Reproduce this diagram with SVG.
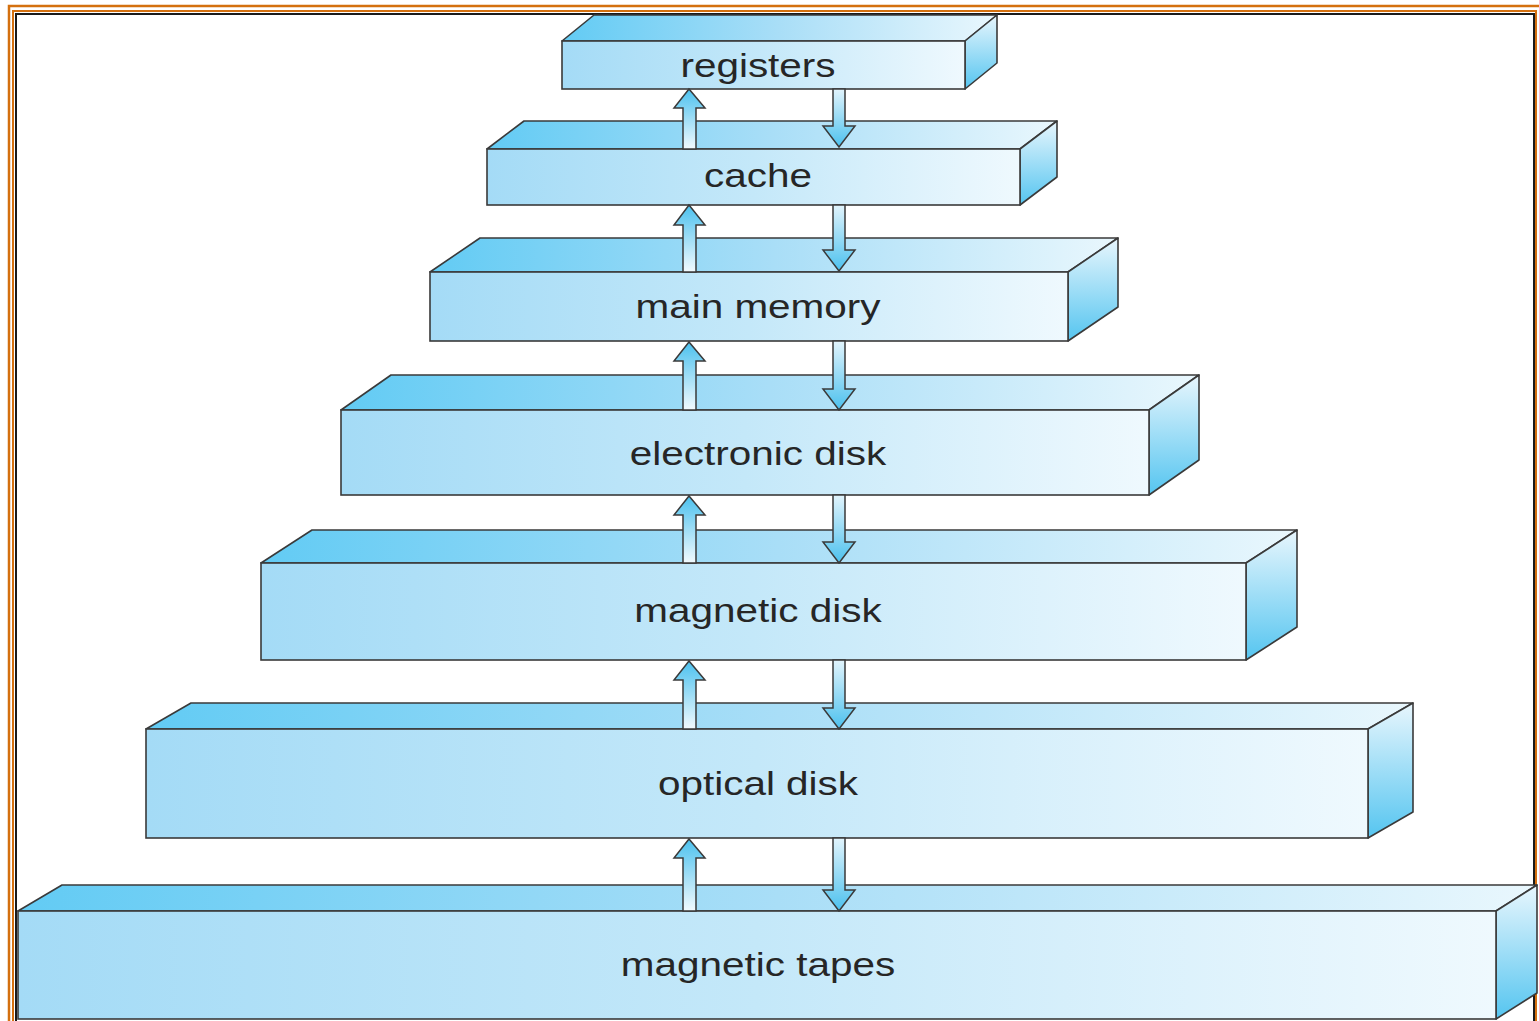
<svg xmlns="http://www.w3.org/2000/svg" width="1539" height="1021" viewBox="0 0 1539 1021">
<defs>
<linearGradient id="gFront" x1="0" y1="0" x2="1" y2="0">
<stop offset="0" stop-color="#a4dbf6"/><stop offset="0.5" stop-color="#c4e8f9"/><stop offset="1" stop-color="#eff9fe"/>
</linearGradient>
<linearGradient id="gTop" x1="0" y1="0" x2="1" y2="0">
<stop offset="0" stop-color="#62cbf4"/><stop offset="0.5" stop-color="#a9def7"/><stop offset="1" stop-color="#e9f7fd"/>
</linearGradient>
<linearGradient id="gSide" x1="0" y1="0" x2="0" y2="1">
<stop offset="0" stop-color="#e8f6fd"/><stop offset="1" stop-color="#55c5f0"/>
</linearGradient>
<linearGradient id="gUp" x1="0" y1="0" x2="0" y2="1">
<stop offset="0" stop-color="#4cc1ee"/><stop offset="1" stop-color="#f2fafe"/>
</linearGradient>
<linearGradient id="gDown" x1="0" y1="0" x2="0" y2="1">
<stop offset="0" stop-color="#e2f4fc"/><stop offset="1" stop-color="#4cc1ee"/>
</linearGradient>
</defs>
<style>
.f{fill:url(#gFront);stroke:#3a3a3a;stroke-width:1.6}
.t{fill:url(#gTop);stroke:#3a3a3a;stroke-width:1.6;stroke-linejoin:round}
.s{fill:url(#gSide);stroke:#3a3a3a;stroke-width:1.6;stroke-linejoin:round}
.up{fill:url(#gUp);stroke:#3a3a3a;stroke-width:1.5;stroke-linejoin:miter}
.dn{fill:url(#gDown);stroke:#3a3a3a;stroke-width:1.5;stroke-linejoin:miter}
.lbl{font-family:"Liberation Sans",Arial,sans-serif;font-size:34px;fill:#262626;text-anchor:middle}
</style>
<rect x="0" y="0" width="1539" height="1021" fill="#ffffff"/>
<g id="frame" fill="none">
<path d="M9,1021 V6 H1539" stroke="#d4700f" stroke-width="2.5"/>
<path d="M13,1021 V11 H1536 V1021" stroke="#d4700f" stroke-width="2"/>
<path d="M16,1021 V14 H1534 V1021" stroke="#1a1a1a" stroke-width="2"/>
</g>
<g id="registers">
<polygon class="t" points="562,41 594,15 997,15 965,41"/>
<polygon class="s" points="965,41 997,15 997,63 965,89"/>
<rect class="f" x="562" y="41" width="403" height="48"/>
<text class="lbl" transform="translate(758,77) scale(1.19,1)">registers</text>
</g>
<g id="cache">
<polygon class="t" points="487,149 524,121 1057,121 1020,149"/>
<polygon class="s" points="1020,149 1057,121 1057,177 1020,205"/>
<rect class="f" x="487" y="149" width="533" height="56"/>
<text class="lbl" transform="translate(758,187) scale(1.19,1)">cache</text>
</g>
<g id="main-memory">
<polygon class="t" points="430,272 480,238 1118,238 1068,272"/>
<polygon class="s" points="1068,272 1118,238 1118,307 1068,341"/>
<rect class="f" x="430" y="272" width="638" height="69"/>
<text class="lbl" transform="translate(758,318) scale(1.19,1)">main memory</text>
</g>
<g id="electronic-disk">
<polygon class="t" points="341,410 391,375 1199,375 1149,410"/>
<polygon class="s" points="1149,410 1199,375 1199,460 1149,495"/>
<rect class="f" x="341" y="410" width="808" height="85"/>
<text class="lbl" transform="translate(758,465) scale(1.19,1)">electronic disk</text>
</g>
<g id="magnetic-disk">
<polygon class="t" points="261,563 312,530 1297,530 1246,563"/>
<polygon class="s" points="1246,563 1297,530 1297,627 1246,660"/>
<rect class="f" x="261" y="563" width="985" height="97"/>
<text class="lbl" transform="translate(758,622) scale(1.19,1)">magnetic disk</text>
</g>
<g id="optical-disk">
<polygon class="t" points="146,729 191,703 1413,703 1368,729"/>
<polygon class="s" points="1368,729 1413,703 1413,812 1368,838"/>
<rect class="f" x="146" y="729" width="1222" height="109"/>
<text class="lbl" transform="translate(758,795) scale(1.19,1)">optical disk</text>
</g>
<g id="magnetic-tapes">
<polygon class="t" points="18,911 62,885 1537,885 1496,911"/>
<polygon class="s" points="1496,911 1537,885 1537,993 1496,1019"/>
<rect class="f" x="18" y="911" width="1478" height="108"/>
<text class="lbl" transform="translate(758,976) scale(1.19,1)">magnetic tapes</text>
</g>
<g id="connectors">
<path class="up" d="M683,149 V108 H674 L689,89 L705,108 H696 V149 Z"/>
<path class="dn" d="M833,89 V126 H823 L839,147 L855,126 H845 V89 Z"/>
<path class="up" d="M683,272 V225 H674 L689,205 L705,225 H696 V272 Z"/>
<path class="dn" d="M833,205 V250 H823 L839,271 L855,250 H845 V205 Z"/>
<path class="up" d="M683,410 V361 H674 L689,342 L705,361 H696 V410 Z"/>
<path class="dn" d="M833,341 V389 H823 L839,410 L855,389 H845 V341 Z"/>
<path class="up" d="M683,563 V515 H674 L689,496 L705,515 H696 V563 Z"/>
<path class="dn" d="M833,495 V542 H823 L839,563 L855,542 H845 V495 Z"/>
<path class="up" d="M683,729 V680 H674 L689,661 L705,680 H696 V729 Z"/>
<path class="dn" d="M833,660 V708 H823 L839,729 L855,708 H845 V660 Z"/>
<path class="up" d="M683,911 V858 H674 L689,839 L705,858 H696 V911 Z"/>
<path class="dn" d="M833,838 V890 H823 L839,911 L855,890 H845 V838 Z"/>
</g>
</svg>
